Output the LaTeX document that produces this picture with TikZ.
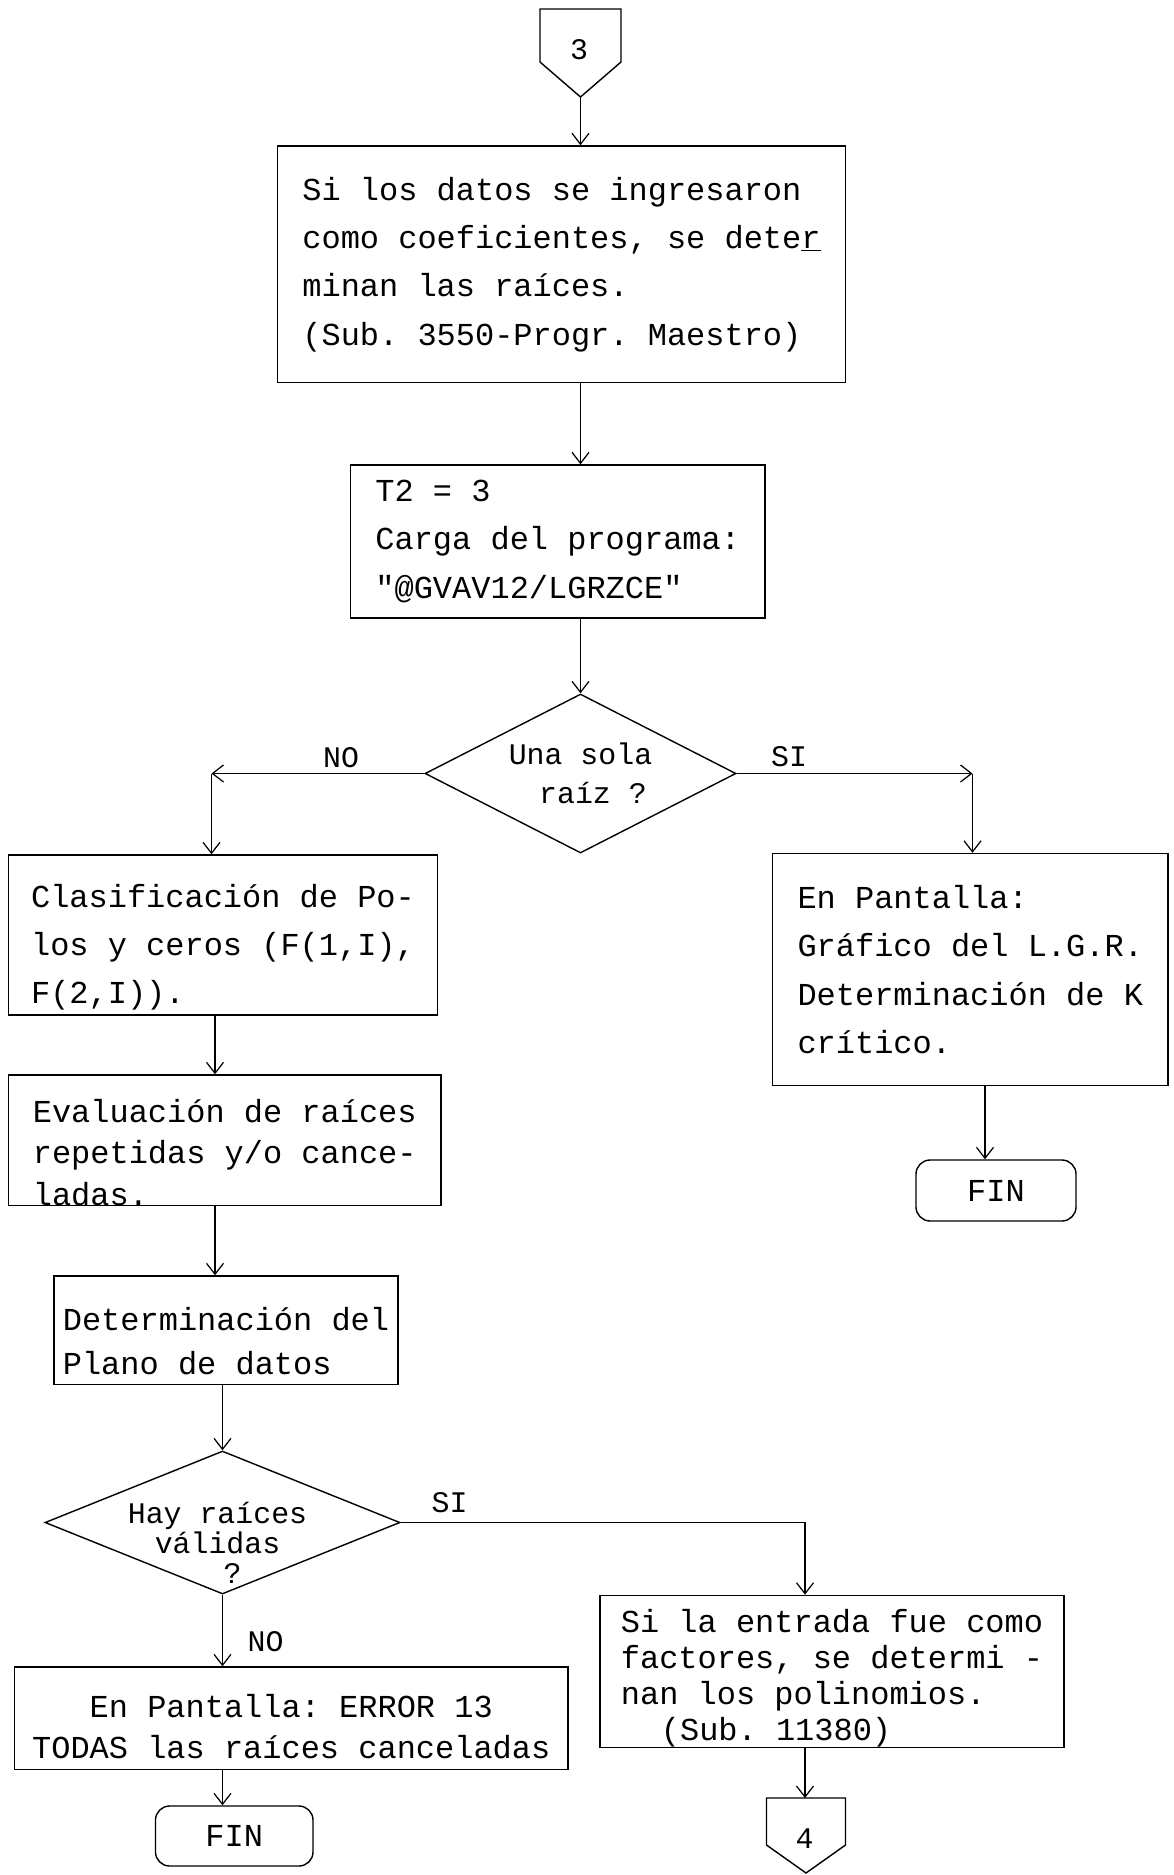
\documentclass[tikz,border=0pt]{standalone}
\usepackage{fontspec}
\setmonofont{Liberation Mono}
\usetikzlibrary{shapes.geometric, arrows.meta, positioning}

\begin{document}
\begin{tikzpicture}[
	proc/.style={rectangle,draw,line width=0.8pt,inner sep=0pt,align=left,
		font=\ttfamily\fontsize{18.2}{27.5}\selectfont},
	decision/.style={diamond,draw,line width=0.8pt,inner sep=0pt},
	endbox/.style={rectangle,rounded corners=8pt,draw,line width=0.8pt,
		minimum width=3.15cm,minimum height=1.2cm,font=\ttfamily\fontsize{18.2}{22}\selectfont},
	offpage/.style={draw,line width=0.8pt},
	tag/.style={font=\ttfamily\fontsize{17}{20}\selectfont,inner sep=1pt},
	arrow/.style={-{Straight Barb[length=2.2mm,width=3.4mm]},line width=0.7pt}
]
\path[fill=white,use as bounding box] (0,0) rectangle (23.46,-37.50);

% connector 3
\draw[offpage] (10.80,-0.18) -- (12.42,-0.18) -- (12.42,-1.24) -- (11.61,-1.94) -- (10.80,-1.24) -- cycle;
\node[tag] (c3) at (11.58,-1.00) {3};
\coordinate (c3tip) at (11.61,-1.94);

% main column
\node[proc, minimum width=11.36cm, minimum height=4.73cm] (datos) at (11.23,-5.285)
	{Si los datos se ingresaron\\como coeficientes, se dete\underline{r}\\minan las raíces.\\(Sub. 3550-Progr. Maestro)};
\node[proc, minimum width=8.29cm, minimum height=3.06cm] (carga) at (11.155,-10.83)
	{T2 = 3\\Carga del programa:\\"@GVAV12/LGRZCE"};
\node[decision, minimum width=6.22cm, minimum height=3.18cm,
	label={[align=center,font=\ttfamily\fontsize{17}{22}\selectfont]center:{Una sola\\\hspace*{0.5cm}raíz ?}}] (d1) at (11.61,-15.47) {};

% NO branch
\coordinate (nocorner) at (4.23,-15.47);
\coordinate (lcol) at (4.30,0);
\node[proc, minimum width=8.58cm, minimum height=3.20cm] (clasif) at (4.46,-18.70)
	{\rule{0pt}{0.95cm}Clasificación de Po-\\los y ceros (F(1,I),\\F(2,I)).};
\node[proc, minimum width=8.65cm, minimum height=2.61cm,
	font=\ttfamily\fontsize{18.2}{23.5}\selectfont] (eval) at (4.495,-22.805)
	{\rule{0pt}{0.95cm}Evaluación de raíces\\repetidas y/o cance-\\ladas.};
\node[proc, minimum width=6.88cm, minimum height=2.17cm,
	font=\ttfamily\fontsize{18.2}{25.5}\selectfont] (plano) at (4.52,-26.605)
	{\rule{0pt}{0.9cm}Determinación del\\Plano de datos};
\node[decision, minimum width=7.10cm, minimum height=2.86cm,
	label={[align=center,xshift=-0.1cm,yshift=-0.4cm,font=\ttfamily\fontsize{17}{17}\selectfont]center:{Hay raíces\\válidas\\\hspace*{0.6cm}?}}] (d2) at (4.45,-30.45) {};
\node[proc, minimum width=11.07cm, minimum height=2.05cm, align=center,
	font=\ttfamily\fontsize{18.2}{23}\selectfont] (error) at (5.825,-34.365)
	{\rule{0pt}{0.8cm}En Pantalla: ERROR 13\\TODAS las raíces canceladas};
\node[endbox] (fin2) at (4.685,-36.72) {FIN};

% SI branch
\coordinate (sicorner) at (19.45,-15.47);
\coordinate (rcol) at (19.70,0);
\node[proc, minimum width=7.91cm, minimum height=4.64cm] (grafico) at (19.405,-19.39)
	{En Pantalla:\\Gráfico del L.G.R.\\Determinación de K\\crítico.};
\node[endbox, minimum width=3.2cm, minimum height=1.22cm] (fin1) at (19.92,-23.81) {FIN};

% polynomials and connector 4
\coordinate (polx) at (16.10,0);
\node[proc, minimum width=9.28cm, minimum height=2.96cm,
	font=\ttfamily\fontsize{18.2}{20.5}\selectfont] (polin) at (16.64,-33.43)
	{\rule{0pt}{0.75cm}Si la entrada fue como\\factores, se determi -\\nan los polinomios.\\\hspace*{0.8cm}(Sub. 11380)};
\draw[offpage] (15.33,-35.96) -- (16.91,-35.96) -- (16.91,-36.90) -- (16.12,-37.46) -- (15.33,-36.90) -- cycle;
\node[tag] (c4) at (16.09,-36.78) {4};
\coordinate (c4top) at (16.12,-35.96);

% labels
\node[tag] (no1) at (6.82,-15.15) {NO};
\node[tag] (si1) at (15.78,-15.13) {SI};
\node[tag] (si2) at (8.99,-30.06) {SI};
\node[tag] (no2) at (5.31,-32.83) {NO};

% arrows
\draw[arrow] (c3tip) -- (c3tip |- datos.north);
\draw[arrow] (datos.south -| c3tip) -- (carga.north -| c3tip);
\draw[arrow] (carga.south -| d1.north) -- (d1.north);
\draw[arrow] (d1.west) -- (nocorner);
\draw[arrow] (nocorner) -- (nocorner |- clasif.north);
\draw[arrow] (d1.east) -- (sicorner);
\draw[arrow] (sicorner) -- (sicorner |- grafico.north);
\draw[arrow] (grafico.south -| rcol) -- (fin1.north -| rcol);
\draw[arrow] (clasif.south -| lcol) -- (eval.north -| lcol);
\draw[arrow] (eval.south -| lcol) -- (plano.north -| lcol);
\draw[arrow] (plano.south -| d2.north) -- (d2.north);
\draw[arrow] (d2.south) -- (d2.south |- error.north);
\draw[arrow] (error.south -| d2.south) -- (fin2.north -| d2.south);
\draw[arrow] (d2.east) -- (d2.east -| polx) -- (polx |- polin.north);
\draw[arrow] (polin.south -| polx) -- (polx |- c4top);

\end{tikzpicture}
\end{document}
